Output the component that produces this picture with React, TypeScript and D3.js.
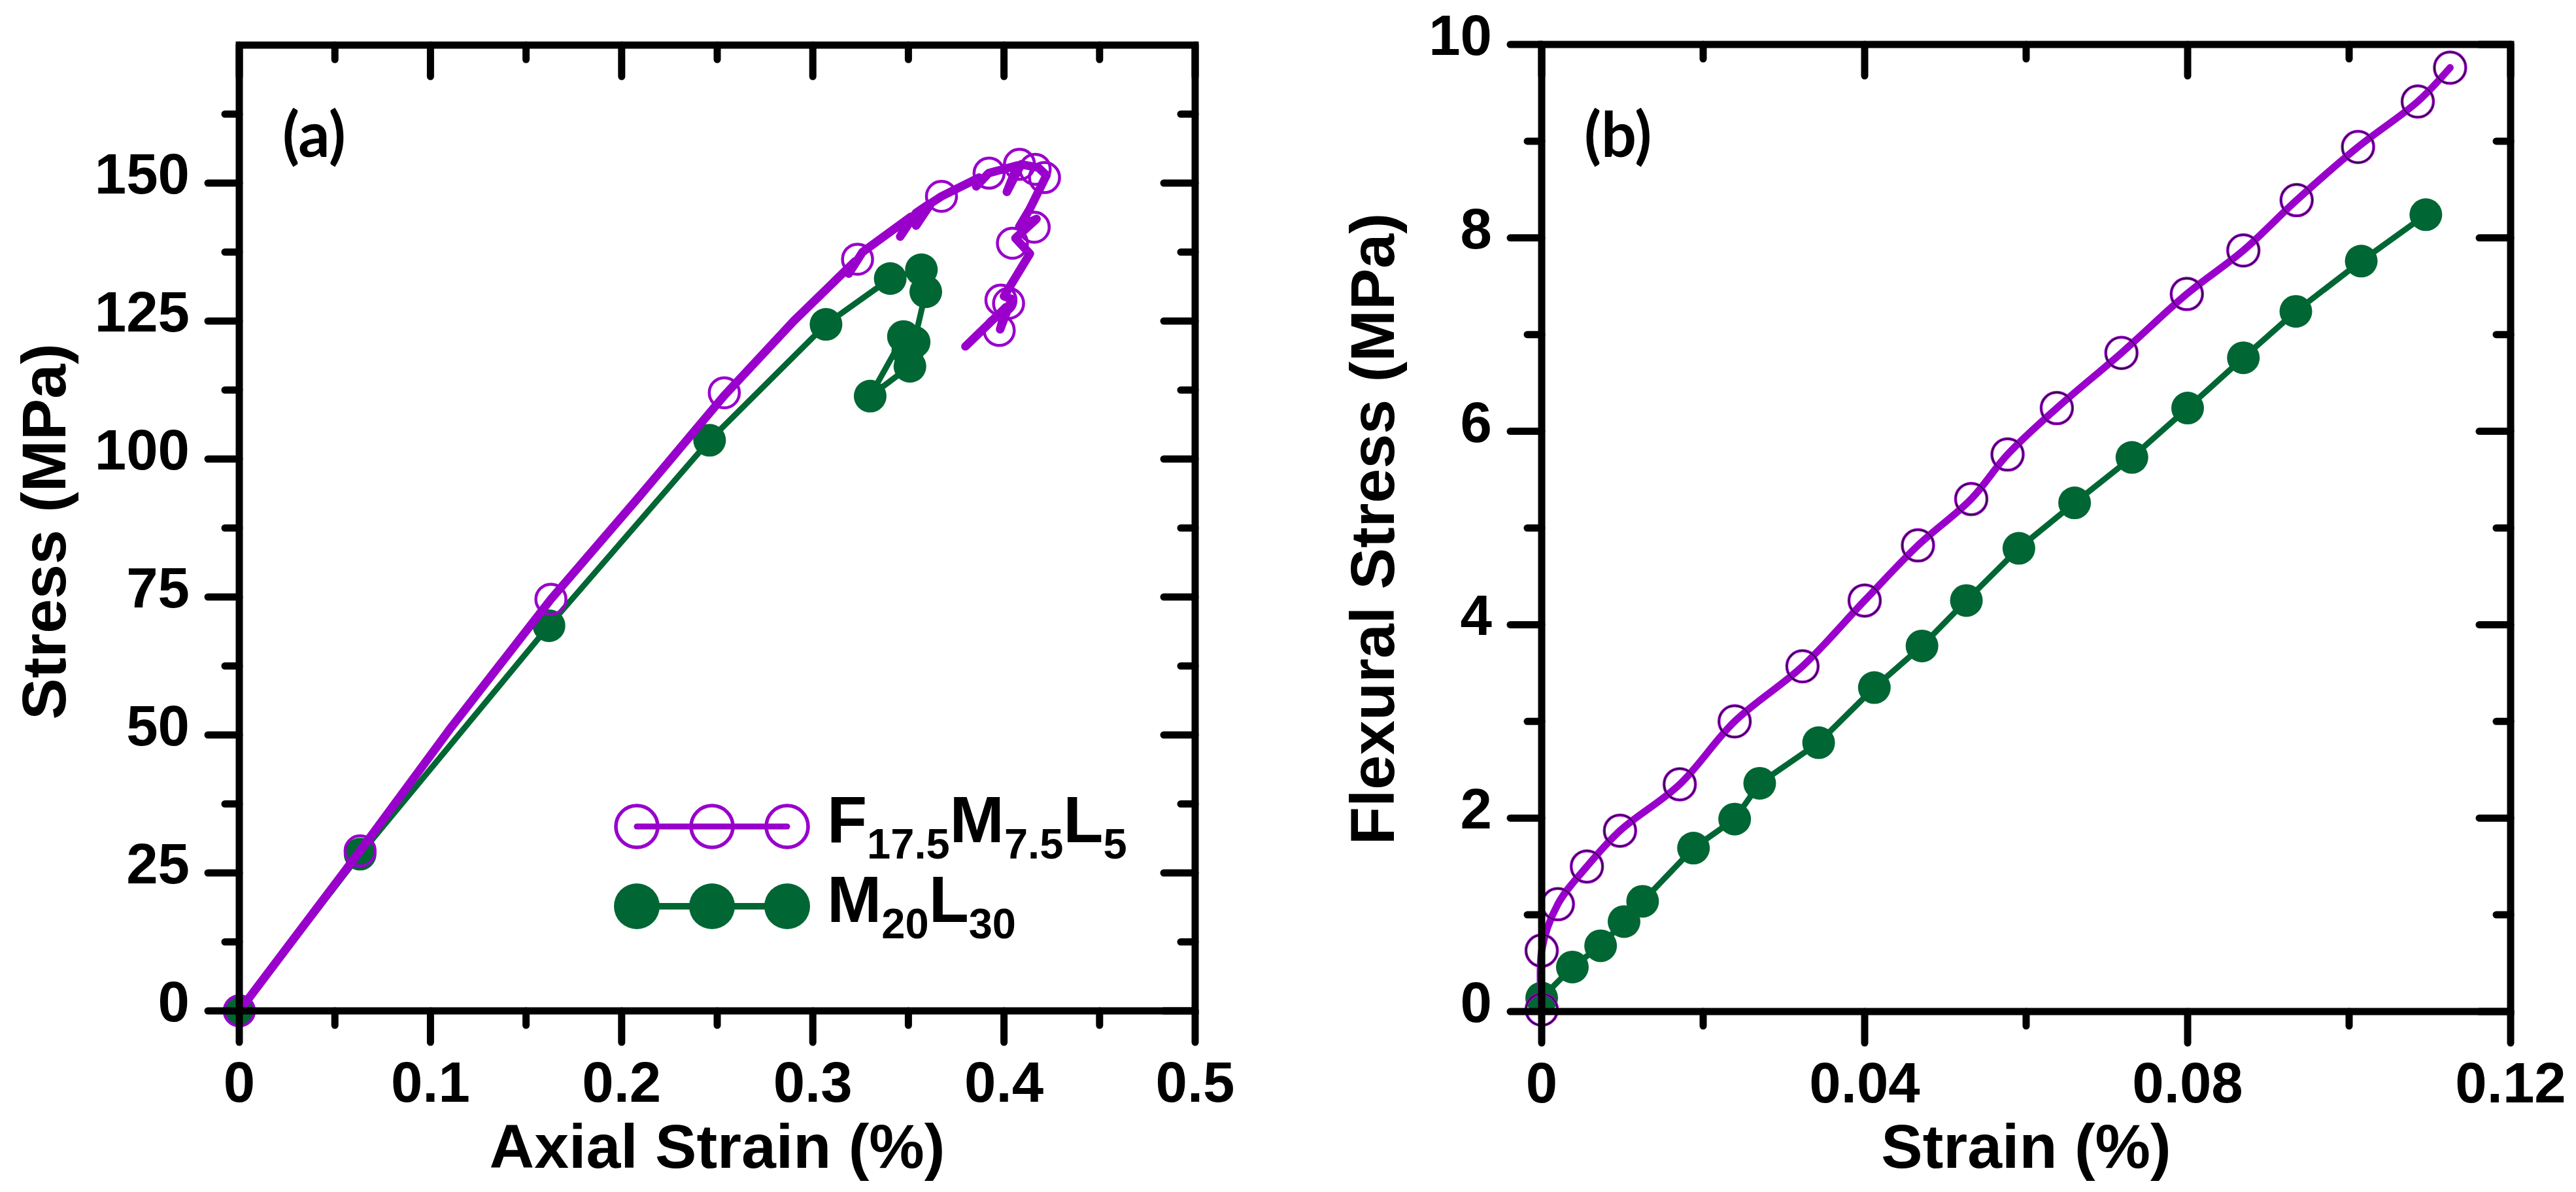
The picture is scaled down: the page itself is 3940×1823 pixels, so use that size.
import * as d3 from "d3";

const W = 3940;
const H = 1823;

const purple = "#9900cc";
const green = "#006633";
const font = "'Liberation Sans', Arial, sans-serif";

// ---- panel (a): tensile ----
const aXMajor = [0, 0.1, 0.2, 0.3, 0.4, 0.5];
const aXMinor = [0.05, 0.15, 0.25, 0.35, 0.45];
const aYMajor = [0, 25, 50, 75, 100, 125, 150];
const aYMinor = [12.5, 37.5, 62.5, 87.5, 112.5, 137.5, 162.5];

// F17.5M7.5L5 recorded curve
const aLineFStrain = [0, 0.0632, 0.11, 0.163, 0.21, 0.2537, 0.29, 0.322, 0.3188, 0.326, 0.3513, 0.3457, 0.354, 0.36, 0.354, 0.362, 0.3673, 0.387, 0.3855, 0.392, 0.407, 0.4015, 0.409, 0.418, 0.4222, 0.4135, 0.408, 0.417, 0.406, 0.4135, 0.4, 0.404, 0.398, 0.401, 0.3798];
const aLineFStress = [0, 29, 51, 74.6, 93.5, 111.5, 125, 135.8, 133.6, 137.5, 143.9, 140.3, 144.6, 146.0, 142.3, 146.4, 147.6, 151.0, 149.4, 151.8, 153.2, 148.4, 153.4, 152.8, 151.4, 145.3, 142.1, 143.5, 140.0, 137.2, 129.5, 129.0, 123.5, 127.5, 120.4];
// F17.5M7.5L5 symbols
const aMarkFStrain = [0, 0.0632, 0.163, 0.2537, 0.3234, 0.3673, 0.3922, 0.4081, 0.4163, 0.4212, 0.4158, 0.4044, 0.3984, 0.4024, 0.3975];
const aMarkFStress = [0, 29, 74.6, 112, 136.2, 147.6, 151.8, 153.4, 152.5, 151.0, 142.0, 139.1, 128.8, 128.2, 123.3];

// M20L30 curve and symbols
const aLineMStrain = [0, 0.0632, 0.162, 0.246, 0.3069, 0.3405, 0.3568, 0.3591, 0.353, 0.3508, 0.33, 0.3474];
const aLineMStress = [0, 28.4, 69.8, 103.4, 124.4, 132.7, 134.3, 130.3, 121.2, 116.8, 111.4, 122.2];
const aMarkMStrain = [0, 0.0632, 0.162, 0.246, 0.3069, 0.3405, 0.3568, 0.3591, 0.3474, 0.353, 0.3497, 0.3508, 0.33];
const aMarkMStress = [0, 28.4, 69.8, 103.4, 124.4, 132.7, 134.3, 130.3, 122.2, 121.2, 119.6, 116.8, 111.4];

// ---- panel (b): flexural ----
const bXMajor = [0, 0.04, 0.08, 0.12];
const bXMinor = [0.02, 0.06, 0.1];
const bYMajor = [0, 2, 4, 6, 8, 10];
const bYMinor = [1, 3, 5, 7, 9];

const bFStrain = [0, 0, 0.002, 0.0056, 0.0097, 0.0171, 0.0239, 0.0323, 0.04, 0.0466, 0.0532, 0.0577, 0.0638, 0.0718, 0.0799, 0.0869, 0.0935, 0.1011, 0.1085, 0.1125];
const bFStress = [0.02, 0.63, 1.11, 1.5, 1.87, 2.35, 3.0, 3.57, 4.25, 4.82, 5.3, 5.76, 6.24, 6.81, 7.42, 7.87, 8.39, 8.94, 9.41, 9.76];
const bMStrain = [0, 0.0038, 0.0073, 0.0102, 0.0125, 0.0188, 0.0239, 0.027, 0.0343, 0.0412, 0.0471, 0.0526, 0.0591, 0.066, 0.0731, 0.08, 0.0869, 0.0934, 0.1015, 0.1095];
const bMStress = [0.14, 0.46, 0.68, 0.93, 1.14, 1.69, 1.99, 2.36, 2.78, 3.35, 3.78, 4.25, 4.79, 5.26, 5.73, 6.24, 6.76, 7.24, 7.76, 8.24];

const legendNames = ["F", "M"];

function zip(xs, ys) {
    return xs.map((v, i) => [v, ys[i]]);
}

function Axes({ x, y, xMajor, xMinor, yMajor, yMinor, xFmt, yFmt }) {
    const [l, r] = x.range();
    const [b, t] = y.range();
    const big = 48;
    const small = 22;
    const tick = { stroke: "#000", strokeWidth: 11, strokeLinecap: "round" };
    return (
        <g>
            {xMajor.map((v, i) => (
                <g key={"xM" + i}>
                    <line x1={x(v)} x2={x(v)} y1={b} y2={b + big} {...tick} />
                    <line x1={x(v)} x2={x(v)} y1={t} y2={t + big} {...tick} />
                    <text x={x(v)} y={b + 139} textAnchor="middle" fontSize={87} fontWeight="bold" fontFamily={font}>
                        {xFmt(v)}
                    </text>
                </g>
            ))}
            {xMinor.map((v, i) => (
                <g key={"xm" + i}>
                    <line x1={x(v)} x2={x(v)} y1={b} y2={b + small} {...tick} />
                    <line x1={x(v)} x2={x(v)} y1={t} y2={t + small} {...tick} />
                </g>
            ))}
            {yMajor.map((v, i) => (
                <g key={"yM" + i}>
                    <line x1={l} x2={l - big} y1={y(v)} y2={y(v)} {...tick} />
                    <line x1={r} x2={r - big} y1={y(v)} y2={y(v)} {...tick} />
                    <text x={l - 76} y={y(v) + 16} textAnchor="end" fontSize={87} fontWeight="bold" fontFamily={font}>
                        {yFmt(v)}
                    </text>
                </g>
            ))}
            {yMinor.map((v, i) => (
                <g key={"ym" + i}>
                    <line x1={l} x2={l - small} y1={y(v)} y2={y(v)} {...tick} />
                    <line x1={r} x2={r - small} y1={y(v)} y2={y(v)} {...tick} />
                </g>
            ))}
            <rect x={l} y={t} width={r - l} height={b - t} fill="none" stroke="#000" strokeWidth={11} />
        </g>
    );
}

function Dots({ pts, x, y, filled, r, ring }) {
    return (
        <g>
            {pts.map((d, i) =>
                filled ? (
                    <circle key={i} cx={x(d[0])} cy={y(d[1])} r={r} fill={green} />
                ) : (
                    <g key={i}>
                        <circle cx={x(d[0])} cy={y(d[1])} r={r} fill="none" stroke={purple} strokeWidth={4.5} />
                        {ring && <circle cx={x(d[0])} cy={y(d[1])} r={r} fill="none" stroke="#000" strokeWidth={1.2} />}
                    </g>
                )
            )}
        </g>
    );
}

export default function App() {
    // panel (a)
    const xa = d3.scaleLinear([0, 0.5], [366, 1828]);
    const ya = d3.scaleLinear([0, 175], [1546, 69]);
    const lineA = d3.line().x((d) => xa(d[0])).y((d) => ya(d[1]));

    // panel (b)
    const xb = d3.scaleLinear([0, 0.12], [2358, 3840]);
    const yb = d3.scaleLinear([0, 10], [1547, 68]);
    const lineBF = d3.line().x((d) => xb(d[0])).y((d) => yb(d[1])).curve(d3.curveCatmullRom.alpha(0.5));
    const lineBM = d3.line().x((d) => xb(d[0])).y((d) => yb(d[1]));

    const legX = [974, 1089, 1204];
    const legY = [1264, 1386];

    return (
        <div style={{ position: "absolute", left: 0, top: 0 }}>
            <svg width={W} height={H} style={{ display: "block", background: "#fff" }}>
                {/* (a) */}
                <path d={lineA(zip(aLineMStrain, aLineMStress))} fill="none" stroke={green} strokeWidth={9} strokeLinejoin="round" strokeLinecap="round" />
                <Dots pts={zip(aMarkMStrain, aMarkMStress)} x={xa} y={ya} filled r={25} />
                <path d={lineA(zip(aLineFStrain, aLineFStress))} fill="none" stroke={purple} strokeWidth={13} strokeLinejoin="round" strokeLinecap="round" />
                <Dots pts={zip(aMarkFStrain, aMarkFStress)} x={xa} y={ya} r={23} />
                <Axes x={xa} y={ya} xMajor={aXMajor} xMinor={aXMinor} yMajor={aYMajor} yMinor={aYMinor} xFmt={(v) => String(v)} yFmt={(v) => String(v)} />
                <text x={432} y={240} fontSize={95} fontWeight="bold" fontFamily="Lato, sans-serif">(a)</text>
                <text x={100} y={813} transform="rotate(-90 100 813)" textAnchor="middle" fontSize={95} fontWeight="bold" fontFamily={font}>Stress (MPa)</text>
                <text x={1097} y={1786} textAnchor="middle" fontSize={95} fontWeight="bold" fontFamily={font}>Axial Strain (%)</text>

                {/* legend */}
                <line x1={legX[0]} x2={legX[2]} y1={legY[0]} y2={legY[0]} stroke={purple} strokeWidth={9} strokeLinecap="round" />
                {legX.map((lx, i) => (
                    <circle key={"lf" + i} cx={lx} cy={legY[0]} r={32} fill="none" stroke={purple} strokeWidth={5.5} />
                ))}
                <line x1={legX[0]} x2={legX[2]} y1={legY[1]} y2={legY[1]} stroke={green} strokeWidth={10} />
                {legX.map((lx, i) => (
                    <circle key={"lm" + i} cx={lx} cy={legY[1]} r={35} fill={green} />
                ))}
                <text x={1265} y={1288} fontSize={100} fontWeight="bold" fontFamily={font}>
                    <tspan>{legendNames[0]}</tspan>
                    <tspan dy={25} fontSize={65}>17.5</tspan>
                    <tspan dy={-25}>M</tspan>
                    <tspan dy={25} fontSize={65}>7.5</tspan>
                    <tspan dy={-25}>L</tspan>
                    <tspan dy={25} fontSize={65}>5</tspan>
                </text>
                <text x={1265} y={1410} fontSize={100} fontWeight="bold" fontFamily={font}>
                    <tspan>{legendNames[1]}</tspan>
                    <tspan dy={25} fontSize={65}>20</tspan>
                    <tspan dy={-25}>L</tspan>
                    <tspan dy={25} fontSize={65}>30</tspan>
                </text>

                {/* (b) */}
                <path d={lineBM(zip(bMStrain, bMStress))} fill="none" stroke={green} strokeWidth={9} strokeLinejoin="round" />
                <Dots pts={zip(bMStrain, bMStress)} x={xb} y={yb} filled r={25} />
                <path d={lineBF(zip(bFStrain, bFStress))} fill="none" stroke={purple} strokeWidth={11} strokeLinejoin="round" strokeLinecap="round" />
                <Dots pts={zip(bFStrain, bFStress)} x={xb} y={yb} r={24} ring />
                <Axes x={xb} y={yb} xMajor={bXMajor} xMinor={bXMinor} yMajor={bYMajor} yMinor={bYMinor} xFmt={(v) => String(v)} yFmt={(v) => String(v)} />
                <text x={2423} y={240} fontSize={95} fontWeight="bold" fontFamily="Lato, sans-serif">(b)</text>
                <text x={2132} y={809} transform="rotate(-90 2132 809)" textAnchor="middle" fontSize={95} fontWeight="bold" fontFamily={font}>Flexural Stress (MPa)</text>
                <text x={3099} y={1786} textAnchor="middle" fontSize={95} fontWeight="bold" fontFamily={font}>Strain (%)</text>
            </svg>
        </div>
    );
}
